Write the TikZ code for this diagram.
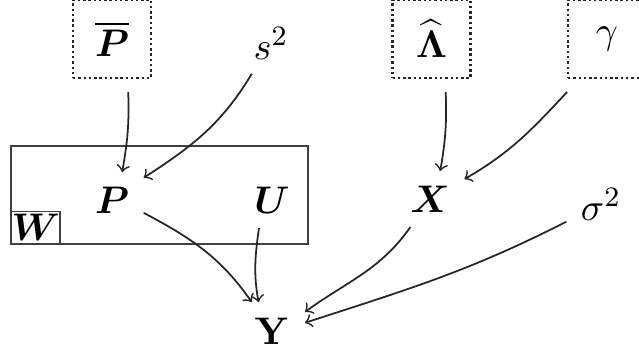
\documentclass[tikz,border=0pt]{standalone}
\usepackage{amsmath,bm}
\begin{document}
\begin{tikzpicture}[
  every node/.style = {font = \fontsize{11}{13}\selectfont},
  fixed/.style = {draw = black!85, line width = 0.7pt, dash pattern = on 0.7pt off 0.8pt,
                  minimum size = 0.78cm, inner sep = 0pt, outer sep = 0.14cm},
  var/.style = {inner sep = 0.14cm},
  link/.style = {->, line width = 0.5pt, black!85}]
\useasboundingbox (0,0) rectangle (6.39,3.54);
% fixed quantities
\node[fixed] (Pbar) at (1.12,3.15) {$\overline{\bm{P}}$};
\node[fixed] (Lam) at (4.315,3.15) {$\widehat{\bm{\Lambda}}$};
\node[fixed] (gam) at (6.07,3.15) {$\gamma$};
\node[var] (s2) at (2.71,3.11) {$s^2$};
\node[var] (sig) at (6.01,1.50) {$\sigma^2$};
% plate
\draw[black!75] (0.11,1.10) rectangle (3.08,2.08);
\node[draw = black!75, anchor = south west, minimum width = 0.46cm, minimum height = 0.32cm,
      inner sep = 0pt] (W) at (0.11,1.10) {$\bm{W}$};
\node[var] (P) at (1.12,1.54) {$\bm{P}$};
\node[var] (U) at (2.72,1.54) {$\bm{U}$};
\node[var] (X) at (4.30,1.55) {$\bm{X}$};
\node[var, inner sep = 0.15cm] (Y) at (2.72,0.23) {$\mathbf{Y}$};
% arrows
\draw[link] (Pbar.-73) to[out=-88, in=80] (P.70);
\draw[link] (s2.-122) to[out=-121, in=33] (P.35);
\draw[link] (Lam.-75) to[out=-88, in=80] (X.70);
\draw[link] (gam.-127) to[out=-133, in=30] (X.30);
\draw[link] (P.-22) to[out=-28, in=125] (Y.125);
\draw[link] (U.-115) to[out=-98, in=100] (Y.115);
\draw[link] (X.-125) to[out=-125, in=36] (Y.30);
\draw[link] (sig.-153) to[out=-153, in=18] (Y.14);
\end{tikzpicture}
\end{document}
